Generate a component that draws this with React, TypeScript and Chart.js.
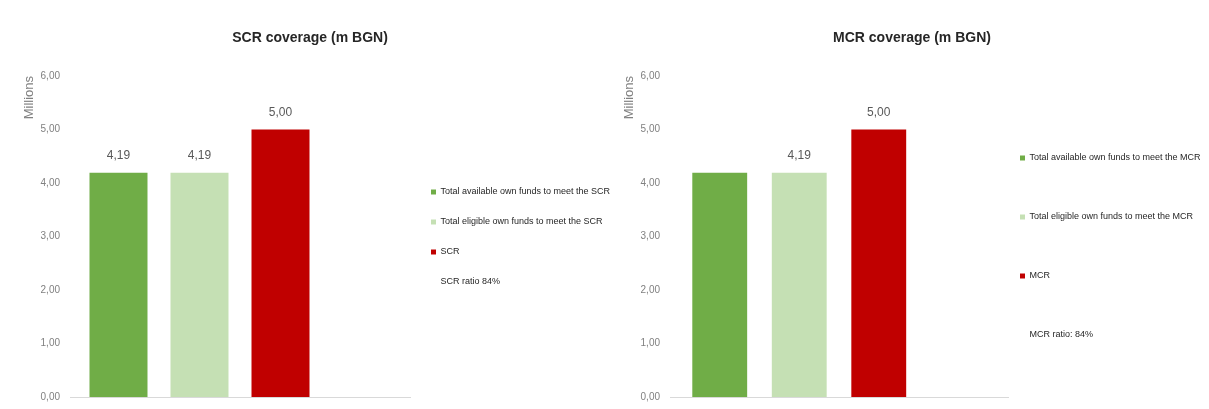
import React, { useEffect, useRef } from "react";
import { Chart, registerables } from "chart.js";

Chart.register(...registerables);

const categories = [""];
const scrSeriesLabels = [
  "Total available own funds to meet the SCR",
  "Total eligible own funds to meet the SCR",
  "SCR",
  "SCR ratio 84%",
];
const mcrSeriesLabels = [
  "Total available own funds to meet the MCR",
  "Total eligible own funds to meet the MCR",
  "MCR",
  "MCR ratio: 84%",
];
const scrValues = [4.19, 4.19, 5.0, null];
const mcrValues = [4.19, 4.19, 5.0, null];
const scrShowLabel = [true, true, true, false];
const mcrShowLabel = [false, true, true, false];
const seriesColors = ["#70AD47", "#C5E0B4", "#C00000", "rgba(0,0,0,0)"];
const yTicks = [0, 1, 2, 3, 4, 5, 6];

const FONT = "'Liberation Sans', Arial, sans-serif";
const fmt = (v: number) => v.toFixed(2).replace(".", ",");

const valueLabelPlugin = {
  id: "valueLabels",
  afterDatasetsDraw(chart: any) {
    const show: boolean[] = chart.options.plugins.valueLabels?.show || [];
    const ctx = chart.ctx;
    ctx.save();
    ctx.font = `12px ${FONT}`;
    ctx.fillStyle = "#595959";
    ctx.textAlign = "center";
    ctx.textBaseline = "bottom";
    chart.data.datasets.forEach((ds: any, i: number) => {
      if (!show[i]) return;
      const meta = chart.getDatasetMeta(i);
      meta.data.forEach((el: any, j: number) => {
        const v = ds.data[j];
        if (v == null) return;
        ctx.fillText(fmt(v), el.x, el.y - 11);
      });
    });
    ctx.restore();
  },
};

type Layout = {
  padLeft: number;
  padRight: number;
  yWidth: number;
  yTitlePad: number;
  legendWidth: number;
  legendPadding: number;
  legendItemHeight: number | null;
  legendOffset: number;
  catPct: number;
  barPct: number;
};

function makeConfig(
  title: string,
  labels: string[],
  values: (number | null)[],
  show: boolean[],
  L: Layout
): any {
  return {
    type: "bar",
    data: {
      labels: categories,
      datasets: labels.map((l, i) => ({
        label: l,
        data: [values[i]],
        backgroundColor: seriesColors[i],
        borderWidth: 0,
        categoryPercentage: L.catPct,
        barPercentage: L.barPct,
      })),
    },
    plugins: [valueLabelPlugin],
    options: {
      animation: false,
      responsive: false,
      maintainAspectRatio: false,
      layout: { padding: { left: L.padLeft, right: L.padRight, top: 0, bottom: 4 } },
      plugins: {
        valueLabels: { show },
        tooltip: { enabled: false },
        title: {
          display: true,
          text: title,
          color: "#262626",
          font: { family: FONT, size: 14, weight: "bold", lineHeight: 1.2 },
          padding: { top: 30, bottom: 29.2 },
        },
        legend: {
          display: true,
          position: "right",
          align: "start",
          maxWidth: L.legendWidth,
          title: {
            display: true,
            text: "",
            font: { family: FONT, size: 9, lineHeight: 1 },
            padding: { top: L.legendOffset, bottom: 0 },
          },
          labels: {
            color: "#262626",
            font: L.legendItemHeight
              ? { family: FONT, size: 9, lineHeight: L.legendItemHeight + "px" }
              : { family: FONT, size: 9 },
            boxWidth: 5,
            boxHeight: 5,
            padding: L.legendPadding,
            generateLabels: (chart: any) =>
              chart.data.datasets.map((ds: any, i: number) => ({
                text: L.legendItemHeight ? [ds.label] : ds.label,
                fillStyle: seriesColors[i],
                strokeStyle: "rgba(0,0,0,0)",
                lineWidth: 0,
                fontColor: "#262626",
                hidden: false,
                datasetIndex: i,
              })),
          },
        },
      },
      scales: {
        x: {
          grid: { display: false },
          ticks: { display: false },
          border: { display: true, color: "#D9D9D9", width: 1 },
        },
        y: {
          min: 0,
          max: 6,
          afterBuildTicks: (s: any) => {
            s.ticks = yTicks.map((v) => ({ value: v }));
          },
          afterFit: (s: any) => {
            s.width = L.yWidth;
          },
          grid: { display: false },
          border: { display: false },
          ticks: {
            color: "#808080",
            font: { family: FONT, size: 10 },
            padding: 2,
            callback: (v: number) => fmt(v),
          },
          title: {
            display: true,
            text: "Millions",
            align: "end",
            color: "#808080",
            font: { family: FONT, size: 13, lineHeight: 1 },
            padding: { top: L.yTitlePad, bottom: 0 },
          },
        },
      },
    },
  };
}

function ChartBox(props: { left: number; width: number; config: any }) {
  const ref = useRef<HTMLCanvasElement | null>(null);
  useEffect(() => {
    if (!ref.current) return;
    const c = new Chart(ref.current, props.config);
    return () => c.destroy();
  }, []);
  return (
    <canvas
      ref={ref}
      width={props.width}
      height={409}
      style={{ position: "absolute", left: props.left, top: 0, width: props.width, height: 409 }}
    />
  );
}

export default function App() {
  const left = makeConfig("SCR coverage (m BGN)", scrSeriesLabels, scrValues, scrShowLabel, {
    padLeft: 7,
    padRight: 2,
    yWidth: 63,
    yTitlePad: 16,
    legendWidth: 203,
    legendPadding: 21,
    legendItemHeight: null,
    legendOffset: 157.5,
    catPct: 0.953,
    barPct: 0.716,
  });
  const right = makeConfig("MCR coverage (m BGN)", mcrSeriesLabels, mcrValues, mcrShowLabel, {
    padLeft: 9,
    padRight: 9,
    yWidth: 46,
    yTitlePad: -1,
    legendWidth: 192,
    legendPadding: 12,
    legendItemHeight: 47,
    legendOffset: 132.5,
    catPct: 0.941,
    barPct: 0.69,
  });
  return (
    <div style={{ position: "absolute", left: 0, top: 0, width: 1209, height: 409, background: "#fff", overflow: "hidden" }}>
      <ChartBox left={0} width={615} config={left} />
      <ChartBox left={615} width={594} config={right} />
    </div>
  );
}
